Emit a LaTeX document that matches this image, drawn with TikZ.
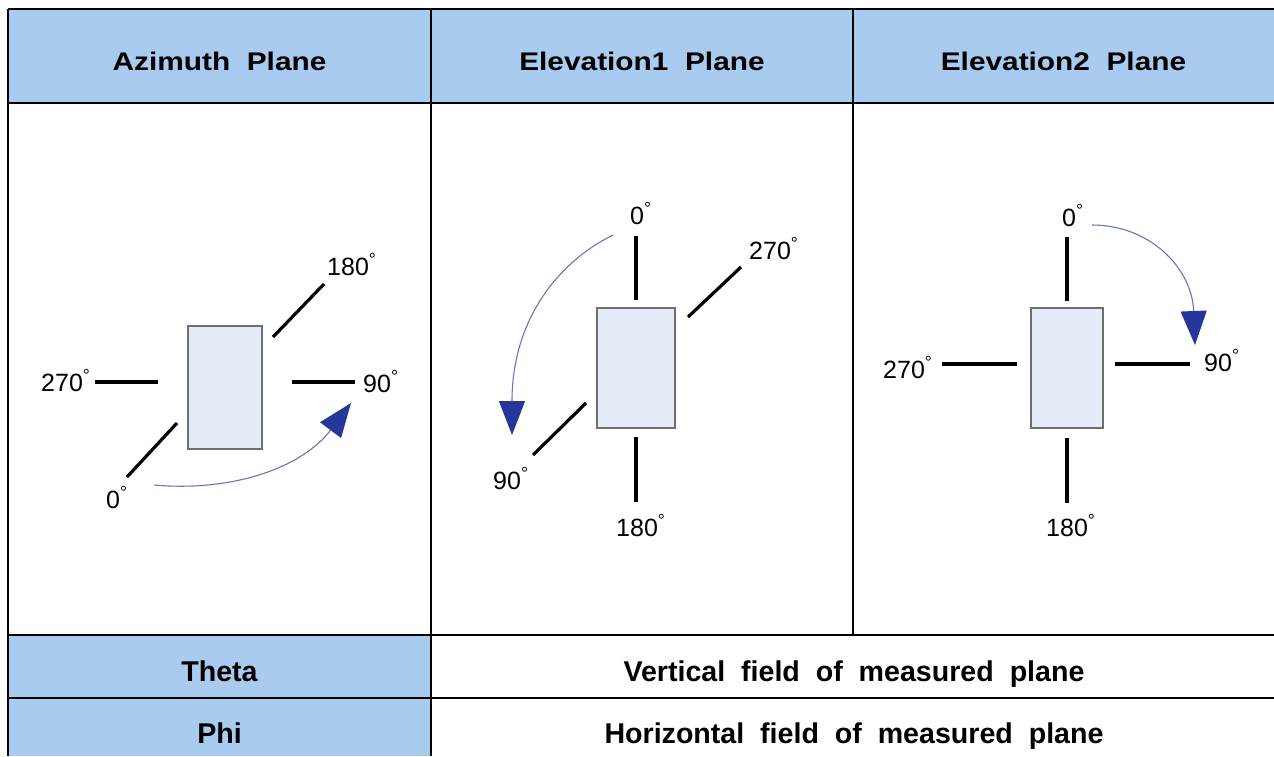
\documentclass[tikz,border=0pt]{standalone}
\usepackage{fontspec}
\setmainfont{Liberation Sans}
\newfontfamily\hdrfont[FakeStretch=1.17]{Liberation Sans}
\usetikzlibrary{arrows.meta}
\definecolor{hdrblue}{HTML}{A8CBEF}
\definecolor{boxfill}{HTML}{E6ECF7}
\definecolor{boxedge}{HTML}{6E6E6E}
\definecolor{arcline}{HTML}{6D74B5}
\definecolor{headblue}{HTML}{26369A}
\newcommand{\dg}{\textsuperscript{°}}
\begin{document}
\begin{tikzpicture}[x=1pt,y=-1pt,
  gridline/.style={line width=1.2pt,black},
  hdrtext/.style={font=\hdrfont\bfseries\fontsize{25.5}{28}\selectfont,anchor=base,inner sep=0pt},
  rowtext/.style={font=\bfseries\fontsize{28.6}{30}\selectfont,anchor=base,inner sep=0pt},
  deglabel/.style={font=\fontsize{25}{27}\selectfont,anchor=base west,inner sep=0pt},
  tick/.style={line width=3.2pt,black},
  antenna/.style={draw=boxedge,fill=boxfill,line width=1.3pt,inner sep=0pt},
  sweep/.style={draw=arcline,line width=1.1pt,-{Triangle[length=34pt,width=26pt,color=headblue,fill=headblue]}}]
\useasboundingbox (0,0) rectangle (1274,756);
\fill[white] (0,0) rectangle (1274,756);
% table fills
\fill[hdrblue] (8,9) rectangle (1274,103);
\fill[hdrblue] (8,635) rectangle (431,756);
% table lines
\draw[gridline] (8,9) -- (1274,9);
\draw[gridline] (8,103) -- (1274,103);
\draw[gridline] (8,635) -- (1274,635);
\draw[gridline] (8,698) -- (1274,698);
\draw[gridline] (8,9) -- (8,756);
\draw[gridline] (431,9) -- (431,756);
\draw[gridline] (853,9) -- (853,635);
% header texts
\node[hdrtext] (h1) at (219.5,70) {Azimuth\ \ Plane};
\node[hdrtext] (h2) at (642,70) {Elevation1\ \ Plane};
\node[hdrtext] (h3) at (1063.5,70) {Elevation2\ \ Plane};
% bottom rows
\node[rowtext] (theta) at (219.5,681) {Theta};
\node[rowtext] (thetad) at (854,681) {Vertical\ \ field\ \ of\ \ measured\ \ plane};
\node[rowtext] (phi) at (219.5,743) {Phi};
\node[rowtext] (phid) at (854,743) {Horizontal\ \ field\ \ of\ \ measured\ \ plane};

% ---------- Azimuth plane ----------
\node[antenna,minimum width=74pt,minimum height=123pt] (az) at (225,387.5) {};
\draw[tick] (95,382) -- (158,382);
\draw[tick] (292,382) -- (355,382);
\draw[tick] (273,337) -- (324,284);
\draw[tick] (177,423) -- (127,477);
\node[deglabel] (az270) at (41,391) {270\dg};
\node[deglabel] (az90) at (363,392) {90\dg};
\node[deglabel] (az180) at (327,275) {180\dg};
\node[deglabel] (az0) at (106,508) {0\dg};
\coordinate (azs) at (154,485);
\coordinate (aze) at (351,403);
\draw[sweep] (azs) .. controls (232,492) and (302,468) .. (aze);

% ---------- Elevation1 plane ----------
\node[antenna,minimum width=78pt,minimum height=120pt] (e1) at (636,368) {};
\draw[tick] (636,236) -- (636,300);
\draw[tick] (636,437) -- (636,502);
\draw[tick] (688,317) -- (741,267);
\draw[tick] (586,403) -- (533,455);
\node[deglabel] (e1z) at (630,224) {0\dg};
\node[deglabel] (e1a) at (749,259) {270\dg};
\node[deglabel] (e1b) at (493,489) {90\dg};
\node[deglabel] (e1c) at (616,536) {180\dg};
\coordinate (e1s) at (613,235);
\coordinate (e1e) at (512,435);
\draw[sweep] (e1s) .. controls (558,262) and (512,320) .. (e1e);

% ---------- Elevation2 plane ----------
\node[antenna,minimum width=72pt,minimum height=120pt] (e2) at (1067,368) {};
\draw[tick] (1067,237) -- (1067,301);
\draw[tick] (1067,438) -- (1067,503);
\draw[tick] (942,364) -- (1017,364);
\draw[tick] (1115,364) -- (1190,364);
\node[deglabel] (e2z) at (1062,226) {0\dg};
\node[deglabel] (e2a) at (883,378) {270\dg};
\node[deglabel] (e2b) at (1204,371) {90\dg};
\node[deglabel] (e2c) at (1046,536) {180\dg};
\coordinate (e2s) at (1092,225);
\coordinate (e2e) at (1195,345);
\draw[sweep] (e2s) .. controls (1150,225) and (1192,268) .. (e2e);
\end{tikzpicture}
\end{document}
